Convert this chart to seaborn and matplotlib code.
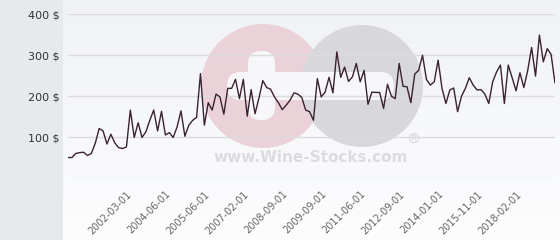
import numpy as np
import pandas as pd
import matplotlib
matplotlib.use("Agg")
import matplotlib.pyplot as plt
import matplotlib.transforms as mtransforms
import seaborn as sns
from matplotlib.patches import Circle, FancyBboxPatch, Rectangle

# ---- data ----
prices = [50, 50, 60, 62, 63, 55, 60, 85, 121, 115, 83, 107, 86, 74, 72, 76,
          166, 99, 135, 99, 113, 141, 166, 115, 163, 105, 111, 99, 125, 164,
          102, 129, 141, 148, 255, 129, 184, 166, 205, 198, 156, 219, 219, 241,
          194, 241, 151, 216, 157, 195, 238, 221, 217, 198, 184, 167, 178, 190,
          208, 205, 197, 166, 162, 141, 243, 198, 210, 246, 208, 308, 246, 271,
          236, 247, 280, 235, 263, 180, 210, 209, 209, 170, 229, 200, 194, 280,
          224, 223, 184, 254, 263, 300, 241, 227, 235, 288, 219, 182, 215, 220,
          162, 200, 219, 245, 227, 215, 216, 205, 182, 235, 259, 276, 182, 276,
          245, 213, 257, 221, 263, 319, 249, 349, 284, 316, 302, 232]
tick_labels = ["2002-03-01", "2004-06-01", "2005-06-01", "2007-02-01",
               "2008-09-01", "2009-09-01", "2011-06-01", "2012-09-01",
               "2014-01-01", "2015-11-01", "2018-02-01"]
y_ticks = [0, 100, 200, 300, 400]

df = pd.DataFrame({"idx": np.arange(len(prices)), "price": prices})

sns.set_style("white")
plt.rcParams["font.family"] = ["DejaVu Sans"]

W, H = 560, 240
fig = plt.figure(figsize=(W / 100, H / 100), dpi=100)
fig.patch.set_facecolor("#fbfbfc")

# left grey panel
fig.patches.append(Rectangle((0, 0), 63 / W, 1, transform=fig.transFigure,
                             facecolor="#e7eaed", edgecolor="none", zorder=0))

# gradient background of plot area
bg = fig.add_axes([63 / W, 0, 1 - 63 / W, 1], zorder=0)
grad = np.linspace(0, 1, 256)[:, None]
top = np.array([240, 242, 246]) / 255
bot = np.array([253, 253, 254]) / 255
img = top[None, None, :] * (1 - grad[:, :, None]) + bot[None, None, :] * grad[:, :, None]
bg.imshow(img, aspect="auto", extent=[0, 1, 0, 1], origin="upper")
bg.set_axis_off()

# watermark layer (pixel coordinates)
wm = fig.add_axes([0, 0, 1, 1], zorder=1)
wm.set_xlim(0, W)
wm.set_ylim(H, 0)
wm.set_axis_off()
wm.patch.set_alpha(0)
wm.add_patch(Circle((263, 86), 62, facecolor="#ebd2d9", edgecolor="none"))
wm.add_patch(Circle((362, 86), 61, facecolor="#d8d8da", edgecolor="none"))
wm.add_patch(FancyBboxPatch((213 + 14, 72), 408 - 213 - 28, 28,
                            boxstyle="round,pad=0,rounding_size=14",
                            facecolor="#f7f7f9", edgecolor="none"))
wm.add_patch(FancyBboxPatch((248, 38 + 13), 27, 133 - 38 - 26,
                            boxstyle="round,pad=0,rounding_size=13",
                            facecolor="#f7f7f9", edgecolor="none"))
wm.text(311, 158, "www.Wine-Stocks.com", ha="center", va="center",
        fontsize=11, fontweight="bold", color="#dcdcde")
wm.text(413, 140, "®", ha="center", va="center", fontsize=10, color="#d4d4d6")

# main axes
ax = fig.add_axes([68 / W, 62 / H, 487 / W, (178 - 14.3) / H], zorder=2)
ax.patch.set_alpha(0)
sns.lineplot(data=df, x="idx", y="price", ax=ax, color="#3b2230", linewidth=1.0)
ax.set_xlim(0, len(prices) - 1)
ax.set_ylim(0, 400)
ax.set_yticks(y_ticks)
ax.set_yticklabels(["" if v == 0 else f"{v} $" for v in y_ticks],
                   fontsize=8, color="#333333")
ax.set_xticks(np.arange(15, len(prices), 10)[:len(tick_labels)])
ax.set_xticklabels(tick_labels, rotation=45, ha="right", rotation_mode="anchor",
                   fontsize=7, color="#666666")
shift = mtransforms.ScaledTranslation(-3 / 100, 0, fig.dpi_scale_trans)
for lab in ax.get_xticklabels():
    lab.set_transform(lab.get_transform() + shift)
ax.tick_params(axis="x", length=0, pad=8)
ax.tick_params(axis="y", length=0, pad=6)
ax.grid(axis="y", color="#dcdcdf", linewidth=1)
ax.grid(axis="x", visible=False)
ax.set_axisbelow(True)
for s in ax.spines.values():
    s.set_visible(False)
ax.set_xlabel("")
ax.set_ylabel("")

fig.savefig("out.png", dpi=100)
